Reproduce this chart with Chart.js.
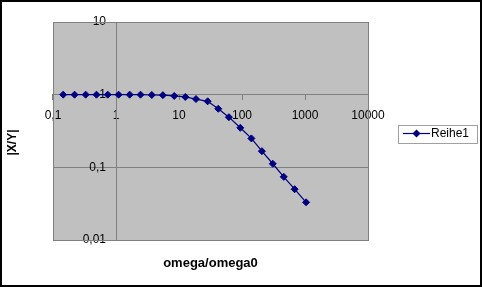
<!DOCTYPE html>
<html><head><meta charset="utf-8">
<script src="https://cdn.jsdelivr.net/npm/chart.js@4/dist/chart.umd.min.js"></script>
<style>html,body{margin:0;padding:0;background:#fff;}canvas{display:block;}</style>
</head><body>
<canvas id="c" width="482" height="287"></canvas>
<script>
const seriesName = 'Reihe1';
const omegaRatio = [0.145, 0.22, 0.33, 0.49, 0.74, 1.1, 1.65, 2.45, 3.7, 5.55, 8.4, 12.6, 18.6, 28.5, 42, 62, 94, 141, 207, 308, 460, 685, 1040];
const magnitude = [1, 1, 1, 1, 1, 1, 1, 1, 0.99, 0.985, 0.96, 0.93, 0.87, 0.81, 0.64, 0.49, 0.35, 0.25, 0.167, 0.112, 0.074, 0.05, 0.033];
const xTickValues = [0.1, 1, 10, 100, 1000, 10000];
const xTickLabels = ['0,1', '1', '10', '100', '1000', '10000'];
const yTickValues = [0.01, 0.1, 1, 10];
const yTickLabels = ['0,01', '0,1', '1', '10'];
const xTitle = 'omega/omega0';
const yTitle = '|X/Y|';

const NAVY = '#000080';
const GRAY = '#808080';
Chart.defaults.font.family = "'Liberation Sans', Arial, sans-serif";
Chart.defaults.font.size = 12;
Chart.defaults.color = '#000';

// legend marker: line with diamond
const marker = document.createElement('canvas');
marker.width = 27; marker.height = 9;
(function(){
  const m = marker.getContext('2d');
  m.strokeStyle = NAVY; m.lineWidth = 1.2;
  m.beginPath(); m.moveTo(0, 4.5); m.lineTo(27, 4.5); m.stroke();
  m.fillStyle = NAVY;
  m.beginPath(); m.moveTo(13.5 - 4, 4.5); m.lineTo(13.5, 0.5); m.lineTo(13.5 + 4, 4.5); m.lineTo(13.5, 8.5); m.closePath(); m.fill();
})();

const decor = {
  id: 'decor',
  beforeLayout(chart) {
    const lg = chart.legend;
    if (lg && !lg._fixedFit) {
      const orig = lg.fit.bind(lg);
      lg.fit = function(){ orig(); this.width = 114; };
      lg._fixedFit = true;
    }
  },
  beforeDraw(chart) {
    const {ctx, chartArea: a} = chart;
    // y-axis labels sit left of the axis line at x = 1 (tick + padding gap)
    const ys = chart.scales.y;
    const items = ys.getLabelItems(a);
    if (!items._shifted) {
      const gap = ys.options.grid.tickLength + ys.options.ticks.padding;
      items.forEach(it => { it.options.translation[0] -= gap; });
      items._shifted = true;
    }
    ctx.save();
    ctx.fillStyle = '#fff';
    ctx.fillRect(0, 0, chart.width, chart.height);
    ctx.fillStyle = '#c0c0c0';
    ctx.fillRect(a.left, a.top, a.right - a.left, a.bottom - a.top);
    ctx.restore();
  },
  beforeDatasetsDraw(chart) {
    const {ctx, chartArea: a} = chart;
    ctx.save();
    ctx.strokeStyle = GRAY; ctx.lineWidth = 1;
    ctx.strokeRect(Math.round(a.left) + 0.5, Math.round(a.top) + 0.5, Math.round(a.right - a.left), Math.round(a.bottom - a.top));
    ctx.restore();
  },
  afterDraw(chart) {
    const {ctx} = chart;
    ctx.save();
    const hb = chart.legend && chart.legend.legendHitBoxes && chart.legend.legendHitBoxes[0];
    if (hb) {
      const cy = hb.top + 6;
      const fx = Math.round(hb.left - 10), fy = Math.round(cy - 9);
      const fw = Math.round(hb.width + 18), fh = 18;
      ctx.strokeStyle = '#a0a0a0'; ctx.lineWidth = 1;
      ctx.strokeRect(fx + 0.5, fy + 0.5, fw, fh);
    }
    ctx.strokeStyle = '#000'; ctx.lineWidth = 2;
    ctx.strokeRect(1, 1, chart.width - 2, chart.height - 2);
    ctx.restore();
  }
};

new Chart(document.getElementById('c'), {
  type: 'scatter',
  data: {
    datasets: [{
      label: seriesName,
      data: omegaRatio.map((x, i) => ({x: x, y: magnitude[i]})),
      xAxisID: 'x', yAxisID: 'y',
      showLine: true,
      borderColor: NAVY, backgroundColor: NAVY,
      borderWidth: 1.2,
      pointStyle: 'rectRot', pointRadius: 3.5, pointBorderWidth: 1,
      pointBorderColor: NAVY, pointBackgroundColor: NAVY,
      tension: 0
    }]
  },
  options: {
    responsive: false, animation: false, devicePixelRatio: 1,
    layout: {padding: {top: 0, left: 0, right: 0, bottom: 2}},
    scales: {
      x: {
        type: 'logarithmic', axis: 'x', position: {y: 1}, min: 0.1, max: 10000,
        afterBuildTicks: s => { s.ticks = xTickValues.map(v => ({value: v})); },
        ticks: {autoSkip: false, maxRotation: 0, minRotation: 0, padding: 9, color: '#000',
          callback: v => xTickLabels[xTickValues.indexOf(v)]},
        grid: {display: true, drawOnChartArea: false, drawTicks: true, tickLength: 5, color: GRAY},
        border: {display: true, color: GRAY, width: 1}
      },
      y: {
        type: 'logarithmic', axis: 'y', position: {x: 1}, min: 0.01, max: 10,
        afterBuildTicks: s => { s.ticks = yTickValues.map(v => ({value: v})); },
        ticks: {autoSkip: false, padding: 5, color: '#000',
          callback: v => yTickLabels[yTickValues.indexOf(v)]},
        grid: {display: true, drawOnChartArea: true, drawTicks: true, tickLength: 5, color: GRAY},
        border: {display: true, color: GRAY, width: 1}
      },
      xt: {
        type: 'linear', axis: 'x', position: 'top', display: true,
        grid: {display: false}, border: {display: false}, ticks: {display: false},
        afterFit: s => { s.height = 22; }
      },
      xb: {
        type: 'linear', axis: 'x', position: 'bottom', display: true,
        grid: {display: false}, border: {display: false}, ticks: {display: false},
        title: {display: true, text: xTitle, color: '#000', font: {size: 13, weight: 'bold'}, padding: {top: 0, bottom: 14.2}},
        afterFit: s => { s.height = 45; }
      }
    },
    plugins: {
      legend: {
        position: 'right', fullSize: false, align: 'center',
        labels: {usePointStyle: true, pointStyle: marker, pointStyleWidth: 17, padding: 40, color: '#000', font: {size: 12}},
        title: {display: true, text: '', padding: {top: 2.6, bottom: 0}, font: {size: 2}}
      },
      subtitle: {
        display: true, position: 'left', fullSize: true, text: yTitle, color: '#000',
        font: {size: 12, weight: 'bold'}, padding: {top: 5.8, bottom: 32.8}
      },
      title: {display: false},
      tooltip: {enabled: false}
    }
  },
  plugins: [decor]
});
</script>
</body></html>
